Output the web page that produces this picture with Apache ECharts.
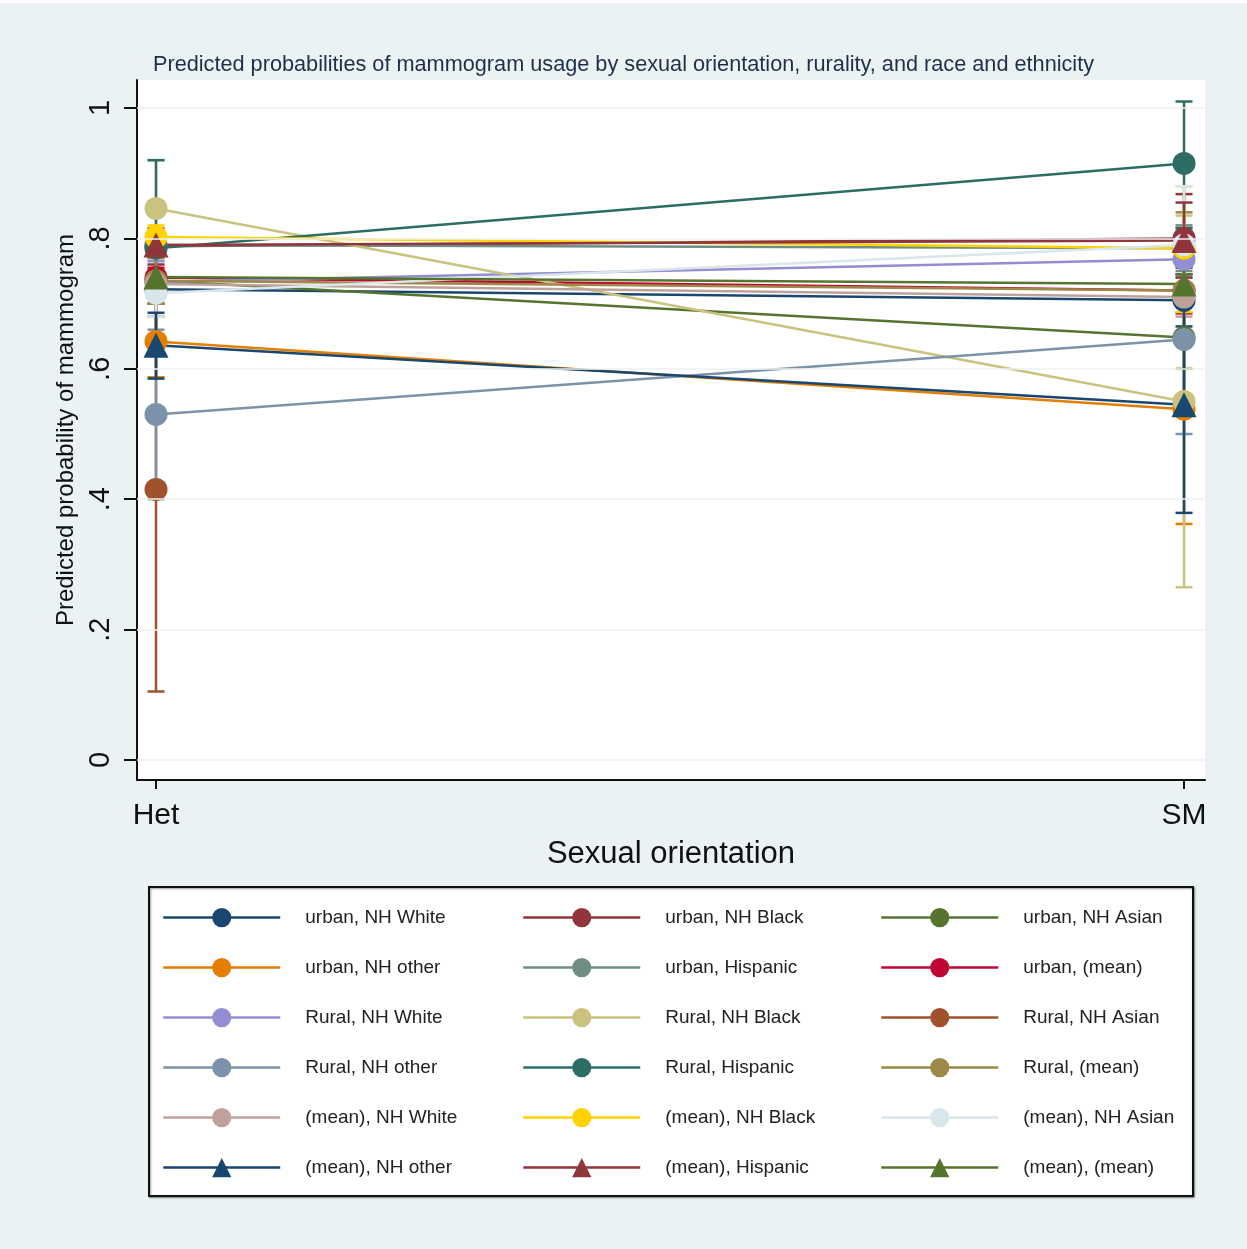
<!DOCTYPE html>
<html>
<head>
<meta charset="utf-8">
<script src="https://cdn.jsdelivr.net/npm/echarts@6/dist/echarts.min.js"></script>
<style>
html,body{margin:0;padding:0;background:#ffffff;}
#chart{position:absolute;left:0;top:3px;width:1247px;height:1246px;}
</style>
</head>
<body>
<div id="chart"></div>
<script>
// ---- data ----
const xCategories = ['Het', 'SM'];
const groupNames = [
  'urban, NH White', 'urban, NH Black', 'urban, NH Asian',
  'urban, NH other', 'urban, Hispanic', 'urban, (mean)',
  'Rural, NH White', 'Rural, NH Black', 'Rural, NH Asian',
  'Rural, NH other', 'Rural, Hispanic', 'Rural, (mean)',
  '(mean), NH White', '(mean), NH Black', '(mean), NH Asian',
  '(mean), NH other', '(mean), Hispanic', '(mean), (mean)'
];
const hetValues = [0.722, 0.788, 0.735, 0.642, 0.790, 0.740, 0.733, 0.846, 0.415, 0.530, 0.785, 0.735, 0.730, 0.802, 0.716, 0.636, 0.790, 0.741];
const smValues  = [0.705, 0.800, 0.648, 0.538, 0.785, 0.720, 0.768, 0.550, null,  0.645, 0.915, 0.720, 0.710, 0.785, 0.790, 0.545, 0.797, 0.730];
const hetLower  = [0.700, 0.760, 0.680, 0.587, 0.770, 0.725, 0.700, 0.770, 0.105, 0.400, 0.650, 0.700, 0.720, 0.785, 0.680, 0.585, 0.775, 0.730];
const hetUpper  = [0.745, 0.815, 0.790, 0.700, 0.810, 0.755, 0.765, 0.920, 0.725, 0.660, 0.920, 0.770, 0.740, 0.820, 0.750, 0.686, 0.805, 0.752];
const smLower   = [0.665, 0.730, 0.550, 0.362, 0.750, 0.685, 0.720, 0.265, null,  0.500, 0.816, 0.600, 0.680, 0.687, 0.700, 0.379, 0.740, 0.700];
const smUpper   = [0.745, 0.868, 0.745, 0.714, 0.820, 0.755, 0.815, 0.835, null,  0.790, 1.010, 0.840, 0.740, 0.880, 0.880, 0.711, 0.855, 0.760];
const yTicks = [0, 0.2, 0.4, 0.6, 0.8, 1];
const yTickLabels = ['0', '.2', '.4', '.6', '.8', '1'];

// ---- styles ----
const colors = ['#1a476f','#90353b','#55752f','#e37e00','#6e8e84','#c10534','#938dd2','#cac27e','#a0522d',
                '#7b92a8','#2d6d66','#9c8847','#bfa19c','#ffd200','#d9e6eb','#1a476f','#90353b','#55752f'];
const symbols = groupNames.map((n, i) => i < 15 ? 'circle' : 'triangle');
const FONT = 'Liberation Sans, Arial, sans-serif';

const series = [];
// gridlines
series.push({
  type: 'line', data: [], silent: true, z: 0,
  markLine: {
    silent: true, symbol: 'none', label: {show: false},
    lineStyle: {color: '#eef2f3', width: 1.5, type: 'solid'},
    data: yTicks.map(v => ({yAxis: v}))
  }
});
// CIs
groupNames.forEach((name, i) => {
  const ci = [];
  if (hetLower[i] != null) ci.push([0, hetLower[i], hetUpper[i]]);
  if (smLower[i] != null) ci.push([1, smLower[i], smUpper[i]]);
  series.push({
    type: 'custom', name: name + ' CI', z: 1, silent: true,
    data: ci,
    renderItem: function (params, api) {
      const x = api.value(0), lo = api.value(1), hi = api.value(2);
      const p1 = api.coord([x, lo]), p2 = api.coord([x, hi]);
      const w = 8.5;
      const st = {stroke: colors[i], lineWidth: 2.5, fill: null};
      return {type: 'group', children: [
        {type: 'line', shape: {x1: p1[0], y1: p1[1], x2: p2[0], y2: p2[1]}, style: st},
        {type: 'line', shape: {x1: p1[0]-w, y1: p1[1], x2: p1[0]+w, y2: p1[1]}, style: st},
        {type: 'line', shape: {x1: p2[0]-w, y1: p2[1], x2: p2[0]+w, y2: p2[1]}, style: st}
      ]};
    }
  });
});
// lines + markers
groupNames.forEach((name, i) => {
  const d = [[0, hetValues[i]]];
  if (smValues[i] != null) d.push([1, smValues[i]]);
  series.push({
    type: 'line', name: name, z: 2,
    data: d,
    symbol: symbols[i], symbolSize: i < 15 ? 23 : 25,
    showAllSymbol: true,
    itemStyle: {color: colors[i], borderWidth: 0},
    lineStyle: {color: colors[i], width: 2.5},
    emphasis: {disabled: true},
    animation: false
  });
});

function legendCol(col, left) {
  return {
    orient: 'vertical', left: left, top: 900, padding: 5,
    itemWidth: 117, itemHeight: 24, itemGap: 30.8,
    selectedMode: false,
    lineStyle: {width: 2.5},
    data: groupNames.filter((n, i) => i % 3 === col),
    textStyle: {fontSize: 19, color: '#222', fontFamily: FONT, padding: [0, 0, 0, 20]}
  };
}

const option = {
  backgroundColor: '#eaf2f3',
  animation: false,
  textStyle: {fontFamily: FONT},
  title: {
    text: 'Predicted probabilities of mammogram usage by sexual orientation, rurality, and race and ethnicity',
    left: 'center', top: 46,
    textStyle: {fontSize: 21.7, fontWeight: 'normal', color: '#1e2f4a', fontFamily: FONT}
  },
  grid: {left: 137, right: 42, top: 77, bottom: 469, show: true, backgroundColor: '#ffffff', borderWidth: 0, containLabel: false},
  xAxis: {
    type: 'value', min: -0.0185, max: 1.0204,
    name: 'Sexual orientation', nameLocation: 'middle', nameGap: 59,
    nameTextStyle: {fontSize: 31, color: '#111'},
    axisLine: {show: true, onZero: false, lineStyle: {color: '#111', width: 2}},
    axisTick: {show: true, customValues: [0, 1], length: 9, lineStyle: {color: '#111', width: 2}},
    axisLabel: {customValues: [0, 1], formatter: v => xCategories[Math.round(v)], fontSize: 30, color: '#111', margin: 21},
    splitLine: {show: false}
  },
  yAxis: {
    type: 'value', min: -0.0307, max: 1.043,
    name: 'Predicted probability of mammogram', nameLocation: 'middle', nameGap: 56, nameRotate: 90,
    nameTextStyle: {fontSize: 24, color: '#111'},
    axisLine: {show: true, onZero: false, lineStyle: {color: '#111', width: 2}},
    axisTick: {show: true, customValues: yTicks, length: 13, lineStyle: {color: '#111', width: 2}},
    axisLabel: {customValues: yTicks, rotate: 90, fontSize: 29, color: '#111', margin: 22,
      formatter: v => { const k = yTicks.findIndex(t => Math.abs(t - v) < 1e-6); return k >= 0 ? yTickLabels[k] : ''; }},
    splitLine: {show: false}
  },
  legend: [legendCol(0, 157), legendCol(1, 517), legendCol(2, 875)],
  graphic: [{
    type: 'rect', z: -1, left: 148, top: 883,
    shape: {width: 1044, height: 309},
    style: {fill: '#ffffff', stroke: '#111', lineWidth: 2, shadowBlur: 2, shadowOffsetX: 1, shadowOffsetY: 1, shadowColor: 'rgba(0,0,0,0.4)'}
  }],
  series: series
};

const chart = echarts.init(document.getElementById('chart'), null, {renderer: 'canvas'});
chart.setOption(option);
</script>
</body>
</html>
